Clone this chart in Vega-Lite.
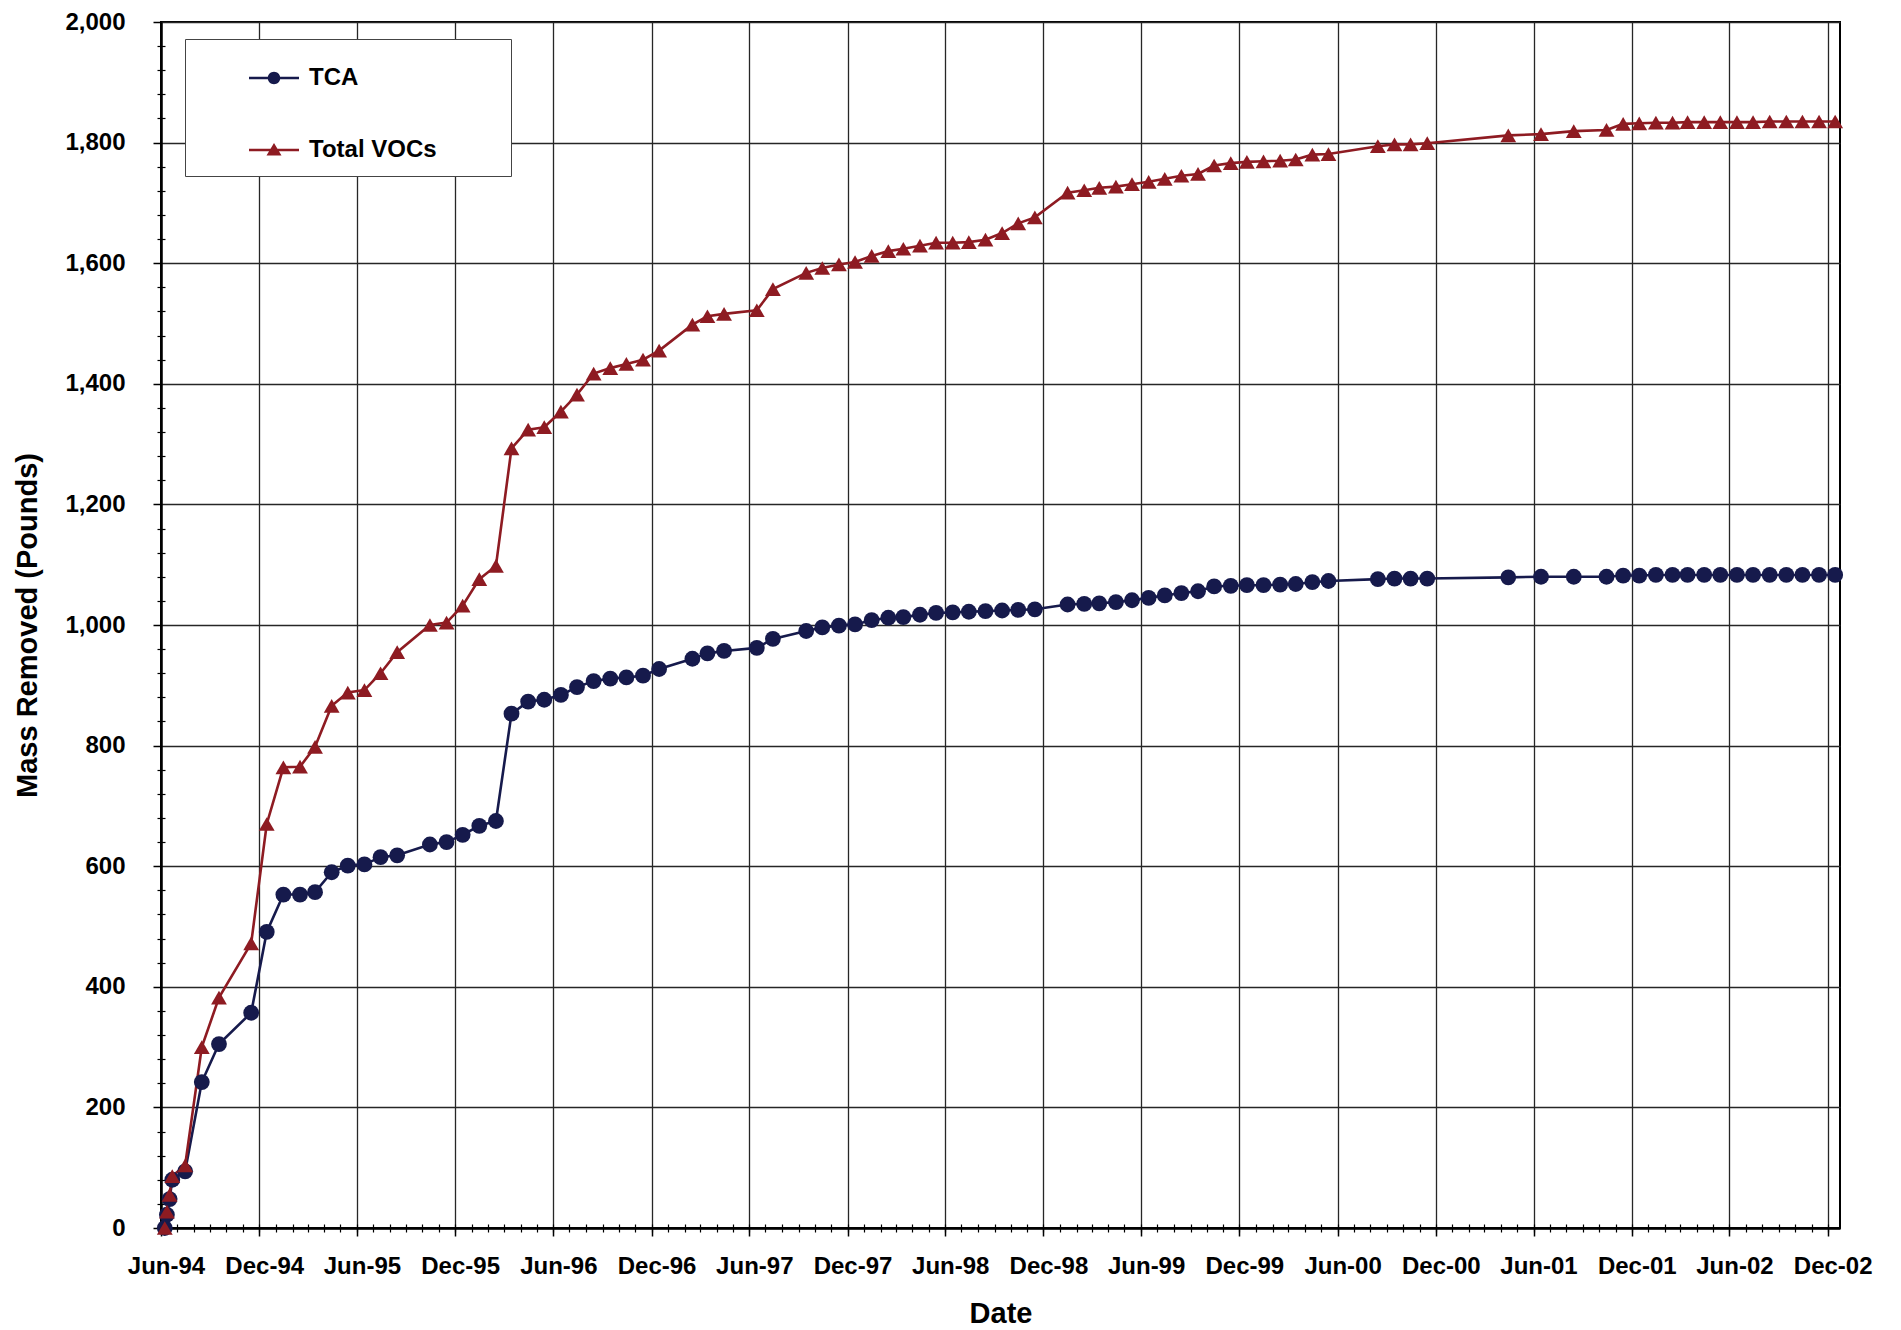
{
  "$schema": "https://vega.github.io/schema/vega-lite/v6.json",
  "width": 1679,
  "height": 1206,
  "autosize": {"type": "none"},
  "padding": {"left": 161, "top": 22, "right": 61, "bottom": 102},
  "background": "white",
  "config": {"view": {"stroke": "black", "strokeWidth": 2}, "font": "Liberation Sans"},
  "datasets": {
    "mass": [
      {"date": "1994-06-08", "series": "TCA", "value": 0},
      {"date": "1994-06-12", "series": "TCA", "value": 22},
      {"date": "1994-06-17", "series": "TCA", "value": 48},
      {"date": "1994-06-22", "series": "TCA", "value": 80},
      {"date": "1994-07-16", "series": "TCA", "value": 94},
      {"date": "1994-08-16", "series": "TCA", "value": 242},
      {"date": "1994-09-17", "series": "TCA", "value": 305},
      {"date": "1994-11-16", "series": "TCA", "value": 357},
      {"date": "1994-12-15", "series": "TCA", "value": 491},
      {"date": "1995-01-15", "series": "TCA", "value": 553},
      {"date": "1995-02-15", "series": "TCA", "value": 553},
      {"date": "1995-03-15", "series": "TCA", "value": 557},
      {"date": "1995-04-15", "series": "TCA", "value": 590},
      {"date": "1995-05-15", "series": "TCA", "value": 601},
      {"date": "1995-06-15", "series": "TCA", "value": 603},
      {"date": "1995-07-15", "series": "TCA", "value": 615},
      {"date": "1995-08-15", "series": "TCA", "value": 618},
      {"date": "1995-10-15", "series": "TCA", "value": 636},
      {"date": "1995-11-15", "series": "TCA", "value": 640},
      {"date": "1995-12-15", "series": "TCA", "value": 652},
      {"date": "1996-01-15", "series": "TCA", "value": 667},
      {"date": "1996-02-15", "series": "TCA", "value": 675},
      {"date": "1996-03-15", "series": "TCA", "value": 853},
      {"date": "1996-04-15", "series": "TCA", "value": 873},
      {"date": "1996-05-15", "series": "TCA", "value": 876},
      {"date": "1996-06-15", "series": "TCA", "value": 884},
      {"date": "1996-07-15", "series": "TCA", "value": 897},
      {"date": "1996-08-15", "series": "TCA", "value": 907},
      {"date": "1996-09-15", "series": "TCA", "value": 911},
      {"date": "1996-10-15", "series": "TCA", "value": 913},
      {"date": "1996-11-15", "series": "TCA", "value": 916},
      {"date": "1996-12-15", "series": "TCA", "value": 927},
      {"date": "1997-02-15", "series": "TCA", "value": 944},
      {"date": "1997-03-15", "series": "TCA", "value": 953},
      {"date": "1997-04-15", "series": "TCA", "value": 957},
      {"date": "1997-06-15", "series": "TCA", "value": 962},
      {"date": "1997-07-15", "series": "TCA", "value": 977},
      {"date": "1997-09-15", "series": "TCA", "value": 990},
      {"date": "1997-10-15", "series": "TCA", "value": 996},
      {"date": "1997-11-15", "series": "TCA", "value": 999},
      {"date": "1997-12-15", "series": "TCA", "value": 1001},
      {"date": "1998-01-15", "series": "TCA", "value": 1008},
      {"date": "1998-02-15", "series": "TCA", "value": 1012},
      {"date": "1998-03-15", "series": "TCA", "value": 1013},
      {"date": "1998-04-15", "series": "TCA", "value": 1017},
      {"date": "1998-05-15", "series": "TCA", "value": 1020},
      {"date": "1998-06-15", "series": "TCA", "value": 1021},
      {"date": "1998-07-15", "series": "TCA", "value": 1022},
      {"date": "1998-08-15", "series": "TCA", "value": 1023},
      {"date": "1998-09-15", "series": "TCA", "value": 1024},
      {"date": "1998-10-15", "series": "TCA", "value": 1025},
      {"date": "1998-11-15", "series": "TCA", "value": 1026},
      {"date": "1999-01-15", "series": "TCA", "value": 1034},
      {"date": "1999-02-15", "series": "TCA", "value": 1035},
      {"date": "1999-03-15", "series": "TCA", "value": 1036},
      {"date": "1999-04-15", "series": "TCA", "value": 1038},
      {"date": "1999-05-15", "series": "TCA", "value": 1041},
      {"date": "1999-06-15", "series": "TCA", "value": 1045},
      {"date": "1999-07-15", "series": "TCA", "value": 1049},
      {"date": "1999-08-15", "series": "TCA", "value": 1053},
      {"date": "1999-09-15", "series": "TCA", "value": 1056},
      {"date": "1999-10-15", "series": "TCA", "value": 1064},
      {"date": "1999-11-15", "series": "TCA", "value": 1065},
      {"date": "1999-12-15", "series": "TCA", "value": 1066},
      {"date": "2000-01-15", "series": "TCA", "value": 1066},
      {"date": "2000-02-15", "series": "TCA", "value": 1067},
      {"date": "2000-03-15", "series": "TCA", "value": 1068},
      {"date": "2000-04-15", "series": "TCA", "value": 1071},
      {"date": "2000-05-15", "series": "TCA", "value": 1073},
      {"date": "2000-08-15", "series": "TCA", "value": 1076},
      {"date": "2000-09-15", "series": "TCA", "value": 1077},
      {"date": "2000-10-15", "series": "TCA", "value": 1077},
      {"date": "2000-11-15", "series": "TCA", "value": 1077},
      {"date": "2001-04-15", "series": "TCA", "value": 1079},
      {"date": "2001-06-15", "series": "TCA", "value": 1080},
      {"date": "2001-08-15", "series": "TCA", "value": 1080},
      {"date": "2001-10-15", "series": "TCA", "value": 1080},
      {"date": "2001-11-15", "series": "TCA", "value": 1082},
      {"date": "2001-12-15", "series": "TCA", "value": 1082},
      {"date": "2002-01-15", "series": "TCA", "value": 1083},
      {"date": "2002-02-15", "series": "TCA", "value": 1083},
      {"date": "2002-03-15", "series": "TCA", "value": 1083},
      {"date": "2002-04-15", "series": "TCA", "value": 1083},
      {"date": "2002-05-15", "series": "TCA", "value": 1083},
      {"date": "2002-06-15", "series": "TCA", "value": 1083},
      {"date": "2002-07-15", "series": "TCA", "value": 1083},
      {"date": "2002-08-15", "series": "TCA", "value": 1083},
      {"date": "2002-09-15", "series": "TCA", "value": 1083},
      {"date": "2002-10-15", "series": "TCA", "value": 1083},
      {"date": "2002-11-15", "series": "TCA", "value": 1083},
      {"date": "2002-12-15", "series": "TCA", "value": 1083},
      {"date": "1994-06-08", "series": "Total VOCs", "value": 0},
      {"date": "1994-06-12", "series": "Total VOCs", "value": 27},
      {"date": "1994-06-17", "series": "Total VOCs", "value": 55},
      {"date": "1994-06-22", "series": "Total VOCs", "value": 86},
      {"date": "1994-07-16", "series": "Total VOCs", "value": 104},
      {"date": "1994-08-16", "series": "Total VOCs", "value": 300},
      {"date": "1994-09-17", "series": "Total VOCs", "value": 382},
      {"date": "1994-11-16", "series": "Total VOCs", "value": 472},
      {"date": "1994-12-15", "series": "Total VOCs", "value": 670},
      {"date": "1995-01-15", "series": "Total VOCs", "value": 764},
      {"date": "1995-02-15", "series": "Total VOCs", "value": 765},
      {"date": "1995-03-15", "series": "Total VOCs", "value": 798},
      {"date": "1995-04-15", "series": "Total VOCs", "value": 866},
      {"date": "1995-05-15", "series": "Total VOCs", "value": 888},
      {"date": "1995-06-15", "series": "Total VOCs", "value": 892},
      {"date": "1995-07-15", "series": "Total VOCs", "value": 920},
      {"date": "1995-08-15", "series": "Total VOCs", "value": 955},
      {"date": "1995-10-15", "series": "Total VOCs", "value": 1000},
      {"date": "1995-11-15", "series": "Total VOCs", "value": 1004},
      {"date": "1995-12-15", "series": "Total VOCs", "value": 1032},
      {"date": "1996-01-15", "series": "Total VOCs", "value": 1076},
      {"date": "1996-02-15", "series": "Total VOCs", "value": 1098},
      {"date": "1996-03-15", "series": "Total VOCs", "value": 1293},
      {"date": "1996-04-15", "series": "Total VOCs", "value": 1324},
      {"date": "1996-05-15", "series": "Total VOCs", "value": 1328},
      {"date": "1996-06-15", "series": "Total VOCs", "value": 1354},
      {"date": "1996-07-15", "series": "Total VOCs", "value": 1382},
      {"date": "1996-08-15", "series": "Total VOCs", "value": 1417},
      {"date": "1996-09-15", "series": "Total VOCs", "value": 1426},
      {"date": "1996-10-15", "series": "Total VOCs", "value": 1433},
      {"date": "1996-11-15", "series": "Total VOCs", "value": 1440},
      {"date": "1996-12-15", "series": "Total VOCs", "value": 1455},
      {"date": "1997-02-15", "series": "Total VOCs", "value": 1498},
      {"date": "1997-03-15", "series": "Total VOCs", "value": 1512},
      {"date": "1997-04-15", "series": "Total VOCs", "value": 1516},
      {"date": "1997-06-15", "series": "Total VOCs", "value": 1522},
      {"date": "1997-07-15", "series": "Total VOCs", "value": 1557},
      {"date": "1997-09-15", "series": "Total VOCs", "value": 1584},
      {"date": "1997-10-15", "series": "Total VOCs", "value": 1592},
      {"date": "1997-11-15", "series": "Total VOCs", "value": 1598},
      {"date": "1997-12-15", "series": "Total VOCs", "value": 1602},
      {"date": "1998-01-15", "series": "Total VOCs", "value": 1612},
      {"date": "1998-02-15", "series": "Total VOCs", "value": 1620},
      {"date": "1998-03-15", "series": "Total VOCs", "value": 1624},
      {"date": "1998-04-15", "series": "Total VOCs", "value": 1629},
      {"date": "1998-05-15", "series": "Total VOCs", "value": 1634},
      {"date": "1998-06-15", "series": "Total VOCs", "value": 1634},
      {"date": "1998-07-15", "series": "Total VOCs", "value": 1635},
      {"date": "1998-08-15", "series": "Total VOCs", "value": 1639},
      {"date": "1998-09-15", "series": "Total VOCs", "value": 1650},
      {"date": "1998-10-15", "series": "Total VOCs", "value": 1666},
      {"date": "1998-11-15", "series": "Total VOCs", "value": 1676},
      {"date": "1999-01-15", "series": "Total VOCs", "value": 1717},
      {"date": "1999-02-15", "series": "Total VOCs", "value": 1721},
      {"date": "1999-03-15", "series": "Total VOCs", "value": 1725},
      {"date": "1999-04-15", "series": "Total VOCs", "value": 1727},
      {"date": "1999-05-15", "series": "Total VOCs", "value": 1731},
      {"date": "1999-06-15", "series": "Total VOCs", "value": 1735},
      {"date": "1999-07-15", "series": "Total VOCs", "value": 1740},
      {"date": "1999-08-15", "series": "Total VOCs", "value": 1745},
      {"date": "1999-09-15", "series": "Total VOCs", "value": 1748},
      {"date": "1999-10-15", "series": "Total VOCs", "value": 1762},
      {"date": "1999-11-15", "series": "Total VOCs", "value": 1766},
      {"date": "1999-12-15", "series": "Total VOCs", "value": 1768},
      {"date": "2000-01-15", "series": "Total VOCs", "value": 1769},
      {"date": "2000-02-15", "series": "Total VOCs", "value": 1770},
      {"date": "2000-03-15", "series": "Total VOCs", "value": 1772},
      {"date": "2000-04-15", "series": "Total VOCs", "value": 1780},
      {"date": "2000-05-15", "series": "Total VOCs", "value": 1781},
      {"date": "2000-08-15", "series": "Total VOCs", "value": 1794},
      {"date": "2000-09-15", "series": "Total VOCs", "value": 1797},
      {"date": "2000-10-15", "series": "Total VOCs", "value": 1797},
      {"date": "2000-11-15", "series": "Total VOCs", "value": 1799},
      {"date": "2001-04-15", "series": "Total VOCs", "value": 1812},
      {"date": "2001-06-15", "series": "Total VOCs", "value": 1814},
      {"date": "2001-08-15", "series": "Total VOCs", "value": 1819},
      {"date": "2001-10-15", "series": "Total VOCs", "value": 1821},
      {"date": "2001-11-15", "series": "Total VOCs", "value": 1831},
      {"date": "2001-12-15", "series": "Total VOCs", "value": 1832},
      {"date": "2002-01-15", "series": "Total VOCs", "value": 1833},
      {"date": "2002-02-15", "series": "Total VOCs", "value": 1833},
      {"date": "2002-03-15", "series": "Total VOCs", "value": 1834},
      {"date": "2002-04-15", "series": "Total VOCs", "value": 1834},
      {"date": "2002-05-15", "series": "Total VOCs", "value": 1834},
      {"date": "2002-06-15", "series": "Total VOCs", "value": 1834},
      {"date": "2002-07-15", "series": "Total VOCs", "value": 1834},
      {"date": "2002-08-15", "series": "Total VOCs", "value": 1835},
      {"date": "2002-09-15", "series": "Total VOCs", "value": 1835},
      {"date": "2002-10-15", "series": "Total VOCs", "value": 1835},
      {"date": "2002-11-15", "series": "Total VOCs", "value": 1835},
      {"date": "2002-12-15", "series": "Total VOCs", "value": 1835}
    ]
  },
  "data": {"name": "mass"},
  "layer": [
    {
      "mark": {"type": "line", "strokeWidth": 2.6},
      "encoding": {
        "x": {
          "field": "date", "type": "temporal",
          "scale": {"type": "utc", "domain": [{"year": 1994, "month": 6, "date": 1, "utc": true}, {"year": 2002, "month": 12, "date": 24, "utc": true}]},
          "axis": {
            "values": [
              {"year": 1994, "month": 6, "date": 1, "utc": true}, {"year": 1994, "month": 12, "date": 1, "utc": true},
              {"year": 1995, "month": 6, "date": 1, "utc": true}, {"year": 1995, "month": 12, "date": 1, "utc": true},
              {"year": 1996, "month": 6, "date": 1, "utc": true}, {"year": 1996, "month": 12, "date": 1, "utc": true},
              {"year": 1997, "month": 6, "date": 1, "utc": true}, {"year": 1997, "month": 12, "date": 1, "utc": true},
              {"year": 1998, "month": 6, "date": 1, "utc": true}, {"year": 1998, "month": 12, "date": 1, "utc": true},
              {"year": 1999, "month": 6, "date": 1, "utc": true}, {"year": 1999, "month": 12, "date": 1, "utc": true},
              {"year": 2000, "month": 6, "date": 1, "utc": true}, {"year": 2000, "month": 12, "date": 1, "utc": true},
              {"year": 2001, "month": 6, "date": 1, "utc": true}, {"year": 2001, "month": 12, "date": 1, "utc": true},
              {"year": 2002, "month": 6, "date": 1, "utc": true}, {"year": 2002, "month": 12, "date": 1, "utc": true}
            ],
            "format": "%b-%y",
            "title": "Date", "titleFontSize": 29, "titleFontWeight": "bold", "titleColor": "black",
            "titleY": 85, "titleBaseline": "middle",
            "labelFontSize": 24, "labelFontWeight": "bold", "labelColor": "black",
            "labelPadding": 18, "labelOffset": 5, "labelFlush": false, "labelOverlap": false,
            "tickSize": 8, "tickColor": "black", "tickWidth": 1.5,
            "domainColor": "black", "domainWidth": 2.5,
            "grid": true, "gridColor": "#262626", "gridWidth": 1.3
          }
        },
        "y": {
          "field": "value", "type": "quantitative",
          "scale": {"domain": [0, 2000], "nice": false},
          "axis": {
            "values": [0, 200, 400, 600, 800, 1000, 1200, 1400, 1600, 1800, 2000],
            "format": ",.0f",
            "title": "Mass Removed (Pounds)", "titleFontSize": 29, "titleFontWeight": "bold", "titleColor": "black",
            "titleX": -134, "titleY": 603, "titleBaseline": "middle", "titleAngle": 270,
            "labelFontSize": 24, "labelFontWeight": "bold", "labelColor": "black",
            "labelPadding": 28,
            "tickSize": 8, "tickColor": "black", "tickWidth": 1.5,
            "domainColor": "black", "domainWidth": 2.5,
            "grid": true, "gridColor": "#262626", "gridWidth": 1.3
          }
        },
        "color": {
          "field": "series", "type": "nominal",
          "scale": {"domain": ["TCA", "Total VOCs"], "range": ["#161A4C", "#8E1B22"]}
        }
      }
    },
    {
      "transform": [{"filter": {"field": "series", "equal": "TCA"}}],
      "mark": {"type": "point", "shape": "circle", "filled": true, "size": 250, "opacity": 1},
      "encoding": {
        "x": {
          "field": "date", "type": "temporal",
          "axis": {"orient": "bottom", "tickCount": {"interval": "month", "step": 1}, "labels": false, "domain": false, "grid": false, "title": null, "tickSize": 8, "offset": -4, "tickColor": "black", "tickWidth": 1.2}
        },
        "y": {
          "field": "value", "type": "quantitative",
          "axis": {"orient": "left", "values": [40, 80, 120, 160, 240, 280, 320, 360, 440, 480, 520, 560, 640, 680, 720, 760, 840, 880, 920, 960, 1040, 1080, 1120, 1160, 1240, 1280, 1320, 1360, 1440, 1480, 1520, 1560, 1640, 1680, 1720, 1760, 1840, 1880, 1920, 1960], "labels": false, "domain": false, "grid": false, "title": null, "tickSize": 8, "offset": -4, "tickColor": "black", "tickWidth": 1.2}
        },
        "color": {"field": "series", "type": "nominal"}
      }
    },
    {
      "transform": [{"filter": {"field": "series", "equal": "Total VOCs"}}],
      "mark": {"type": "point", "shape": "triangle-up", "filled": true, "size": 250, "opacity": 1},
      "encoding": {
        "x": {"field": "date", "type": "temporal", "axis": null},
        "y": {"field": "value", "type": "quantitative", "axis": null},
        "color": {"field": "series", "type": "nominal"}
      }
    },
    {
      "mark": {"type": "point", "filled": true, "size": 10, "opacity": 0},
      "encoding": {
        "x": {"field": "date", "type": "temporal", "axis": null},
        "y": {"field": "value", "type": "quantitative", "axis": null},
        "color": {
          "field": "series", "type": "nominal",
          "legend": {
            "orient": "none", "legendX": 24, "legendY": 17, "title": null, "direction": "vertical",
            "fillColor": "white", "strokeColor": "#444444", "padding": 14,
            "symbolSize": 2500, "symbolOffset": 50, "labelOffset": 10, "rowPadding": 35,
            "symbolOpacity": 1, "symbolStrokeWidth": 0,
            "labelFontSize": 24, "labelFontWeight": "bold", "labelColor": "black", "labelFont": "Liberation Sans",
            "labelLimit": 400,
            "labelExpr": "datum.label + '\u00a0\u00a0\u00a0\u00a0\u00a0\u00a0\u00a0\u00a0\u00a0\u200b'"
          }
        },
        "shape": {
          "field": "series", "type": "nominal",
          "scale": {"domain": ["TCA", "Total VOCs"], "range": [
            "M-1,-0.05L1,-0.05L1,0.05L-1,0.05ZM0.25,0A0.25,0.25 0 1,1 -0.25,0A0.25,0.25 0 1,1 0.25,0Z",
            "M-1,-0.05L1,-0.05L1,0.05L-1,0.05ZM0,-0.28L0.3,0.22L-0.3,0.22Z"
          ]},
          "legend": {
            "orient": "none", "legendX": 24, "legendY": 17, "title": null, "direction": "vertical",
            "fillColor": "white", "strokeColor": "#444444", "padding": 14,
            "symbolSize": 2500, "symbolOffset": 50, "labelOffset": 10, "rowPadding": 35,
            "symbolOpacity": 1, "symbolStrokeWidth": 0,
            "labelFontSize": 24, "labelFontWeight": "bold", "labelColor": "black", "labelFont": "Liberation Sans",
            "labelLimit": 400,
            "labelExpr": "datum.label + '\u00a0\u00a0\u00a0\u00a0\u00a0\u00a0\u00a0\u00a0\u00a0\u200b'"
          }
        }
      }
    }
  ],
  "resolve": {"axis": {"x": "independent", "y": "independent"}}
}
